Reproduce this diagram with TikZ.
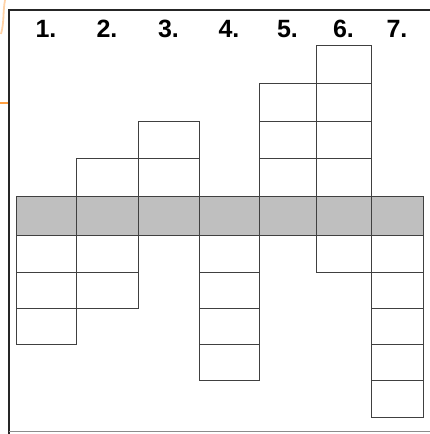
\documentclass[tikz,border=0pt]{standalone}
\usepackage{fontspec}
\setmainfont{Liberation Sans}
\begin{document}
\begin{tikzpicture}[x=1pt,y=-1pt,
    cell/.style={draw=black!75, line width=1pt},
    colnum/.style={font=\fontsize{25}{25}\selectfont\bfseries, inner sep=0pt}]
    \useasboundingbox (0,0) rectangle (430,434);

    % 1. Orange remnants at the left edge
    \draw[orange!75, line width=1.3pt] (0,103) -- (8,103);
    \draw[orange!35, line width=1.8pt] (5,0) to[out=-100,in=75] (1,34);

    % 2. The frame (top, left, bottom)
    \draw[black!85, line width=1.6pt] (9,434) -- (9,10) -- (430,10);
    \draw[black!45, line width=1pt] (9,431) -- (430,431);

    % 3. Shaded band FIRST so the grid lies on top
    \fill[black!25] (16,196.3) rectangle (423,235.7);

    % 4. Columns: number / left / right / cells above / cells below
    \foreach \n/\xl/\xr/\up/\down in {1/16/76/0/3, 2/76/138/1/2, 3/138/199/2/0,
        4/199/259/0/4, 5/259/316/3/0, 6/316/371/4/1, 7/371/423/0/5} {
        \node[colnum] (num\n) at ({(\xl+\xr)/2},29) {\n.};
        \draw[cell] (\xl,196.3) rectangle (\xr,235.7);
        \ifnum\up>0
            \foreach \k in {1,...,\up}
                \draw[cell] (\xl,{196.3-37.65*\k}) rectangle (\xr,{196.3-37.65*(\k-1)});
        \fi
        \ifnum\down>0
            \foreach \k in {1,...,\down}
                \draw[cell] (\xl,{235.7+36.3*(\k-1)}) rectangle (\xr,{235.7+36.3*\k});
        \fi
    }
\end{tikzpicture}
\end{document}
